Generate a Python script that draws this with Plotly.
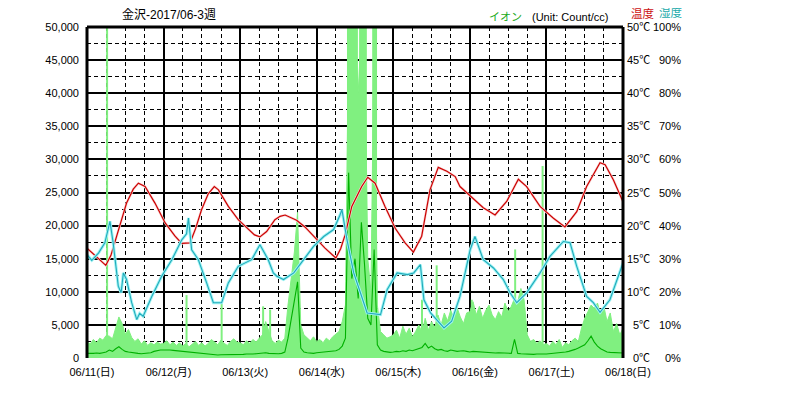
import plotly.graph_objects as go

# ---------------- data ----------------
day_hours = [0, 24, 48, 72, 96, 120, 144, 168]
day_labels = ["06/11(日)", "06/12(月)", "06/13(火)", "06/14(水)", "06/15(木)",
              "06/16(金)", "06/17(土)", "06/18(日)"]

ion_ticks = [0, 5000, 10000, 15000, 20000, 25000, 30000, 35000, 40000, 45000, 50000]
ion_tick_labels = ["0", "5,000", "10,000", "15,000", "20,000", "25,000", "30,000",
                   "35,000", "40,000", "45,000", "50,000"]
temp_ticks = [0, 5, 10, 15, 20, 25, 30, 35, 40, 45, 50]
temp_tick_labels = ["0℃", "5℃", "10℃", "15℃", "20℃", "25℃", "30℃", "35℃", "40℃", "45℃", "50℃"]
hum_ticks = [0, 10, 20, 30, 40, 50, 60, 70, 80, 90, 100]
hum_tick_labels = ["0%", "10%", "20%", "30%", "40%", "50%", "60%", "70%", "80%", "90%", "100%"]

# hourly ion readings (Count/cc), hour 0 .. 168
ion_hours = list(range(169))
ion_max = [
    2500, 2100, 2800, 2300, 3000, 2700, 3400, 3300, 2900, 4600, 6200, 5200,
    3600, 4300, 3100, 2500, 2900, 2100, 2600, 1900, 2300, 2000, 2400, 2100,
    2200, 2600, 2000, 2400, 1900, 2300, 1800, 2200, 1700, 2100, 2500, 1900,
    2300, 1800, 2200, 2800, 2400, 2000, 2700, 2200, 1900, 2500, 2900, 2400,
    2300, 2000, 2600, 2200, 2800, 2400, 3000, 3500, 5500, 4000, 2600, 2200,
    2700, 2400, 3000, 8000, 12000, 16000, 22000, 5000, 3500, 3000, 2600, 3200,
    2500, 2800, 2300, 3000, 2600, 3200, 3600, 4000, 5500, 8000, 50000, 50000,
    50000, 40000, 50000, 50000, 15000, 10000, 50000, 8000, 4000, 3500, 3000, 3200,
    3500, 4200, 3000, 4800, 3600, 4500, 3200, 4000, 5000, 3800, 6000, 4200,
    5500, 4600, 6500, 5000, 6800, 5600, 7200, 6000, 7600, 6200, 5200, 6800,
    7000, 8500, 6500, 7800, 6000, 7200, 8000, 6500, 5800, 7000, 6200, 8300,
    7000, 7800, 9000, 8500, 10500, 8800, 3500, 2500, 2800, 2200, 2600, 2000,
    2200, 1800, 2500, 2000, 2800, 1600, 2300, 2000, 2600, 3000, 2500, 4500,
    6000, 7000, 8000, 7500, 8300, 6500, 7800, 5500, 6800, 4000, 5200, 3500,
    4500,
]
ion_avg = [
    700, 650, 700, 750, 700, 800, 900, 1200, 1000, 1400, 1700, 1300,
    1000, 900, 800, 750, 700, 650, 700, 650, 800, 1000, 1150, 1200,
    1200, 1250, 1200, 1150, 1100, 1000, 950, 900, 850, 800, 750, 700,
    650, 600, 550, 500, 450, 450, 500, 500, 450, 500, 550, 500,
    500, 550, 600, 550, 600, 650, 700, 750, 800, 700, 650, 600,
    650, 700, 900, 3000, 6000, 9000, 11500, 1500, 900, 800, 750, 700,
    800, 850, 900, 850, 900, 1000, 1100, 1300, 1800, 3000, 28000, 12000,
    15000, 9000, 20500, 14000, 6000, 5000, 16400, 2000, 1200, 1000, 900, 850,
    900, 1000, 950, 1100, 1000, 1200, 1100, 1300, 1400, 1600, 2200, 1500,
    1800, 1400, 1200, 1300, 1100, 1000, 1200, 1100, 1000, 1050, 1100, 1000,
    900, 1000, 950, 900, 850, 900, 850, 800, 750, 800, 750, 700,
    650, 700, 2800, 700, 650, 600, 550, 600, 550, 600, 650, 600,
    600, 650, 700, 650, 700, 800, 900, 1000, 1100, 1300, 1500, 1700,
    2000, 2600, 3300, 2400, 1800, 1400, 1100, 900, 850, 800, 750, 800,
    750,
]

# short-lived ion peaks (hour, Count/cc)
peak_hours = [6.3, 31.2, 42.2, 55.2, 57.4, 105.0, 109.6, 120.6, 134.2, 142.8,
              81.8, 82.1, 82.4, 82.7, 83.0, 83.3, 84.0, 84.3, 84.6,
              85.6, 85.9, 86.2, 86.5, 86.8, 87.1, 87.4, 89.7, 90.0, 90.3, 90.6]
peak_values = [50000, 9500, 8300, 7800, 7300, 8800, 14000, 8800, 16400, 29000,
               50000, 50000, 50000, 50000, 50000, 50000, 50000, 50000, 50000,
               50000, 50000, 50000, 50000, 50000, 50000, 50000, 50000, 50000, 50000, 50000]

# temperature (°C)
temp_hours = [0, 3, 5.9, 7.5, 9.8, 12.4, 14.5, 16.1, 18.2, 21.3, 24.5, 27.6, 29.7, 32.3,
              34, 35.9, 38, 39.9, 41.2, 44.3, 47.4, 50.6, 52.5, 54.2, 56.3, 58.9, 60.5,
              62.1, 65.7, 68.3, 71.5, 74.6, 78.0, 79.5, 80.9, 83, 86.1, 88, 90.3, 93.4,
              96.6, 99.7, 102.3, 104.9, 107.5, 110.1, 112.8, 115.4, 116.9, 120.6, 124.2,
              127.9, 131.6, 135.2, 137.8, 142, 146.2, 149.8, 153.5, 156.6, 160.8, 162.4,
              165, 168]
temp_values = [16.6, 15.3, 14.0, 15.5, 19.4, 23.4, 25.5, 26.4, 25.9, 23.4, 20.4, 18.4, 17.3,
               17.4, 19.5, 22.4, 24.8, 25.9, 25.4, 22.9, 20.9, 19.4, 18.6, 18.3, 19.1, 20.9,
               21.4, 21.6, 20.8, 19.8, 18.1, 16.6, 15.1, 16.5, 18.6, 22.9, 25.9, 27.3, 26.4,
               22.9, 19.6, 17.4, 16.0, 18.4, 25.4, 28.8, 28.2, 27.4, 25.9, 24.2, 22.7, 21.6,
               23.7, 27.0, 25.9, 22.9, 21.1, 19.8, 22.1, 25.9, 29.5, 29.2, 26.9, 23.6]

# humidity (%)
hum_hours = [0, 1.5, 3.6, 5.6, 7.2, 8.2, 9.8, 10.7, 11.4, 12.4, 14.0, 15.6, 16.5, 17.6,
             20.3, 23.4, 26.6, 29.7, 31.2, 31.8, 32.8, 34.9, 37.5, 39.6, 42.2, 44.3, 47.4,
             51.6, 54.2, 56.8, 58.4, 59.5, 61.6, 64.8, 67.9, 71.0, 74.2, 77.3, 79.2, 79.9,
             81.5, 83.6, 85.7, 87.8, 92, 94.1, 97.2, 100.4, 102.4, 104.5, 105.6, 107.7,
             111.9, 114.3, 116.9, 118.5, 120.1, 121.6, 124.2, 127.4, 130.5, 132.6, 134.7,
             137.8, 142, 145.1, 149.3, 151.4, 153.5, 156.6, 158.7, 160.8, 163.9, 168]
hum_values = [31.2, 29.5, 31.7, 34.8, 41.3, 34.8, 21.7, 19.7, 25.7, 23.7, 16.7, 11.6, 13.5,
              12.6, 18.6, 24.7, 29.7, 35.7, 37.5, 42.3, 32.7, 29.7, 22.7, 16.7, 16.7, 22.7,
              27.7, 29.7, 34.2, 29.7, 25.7, 24.7, 23.7, 25.7, 29.7, 33.7, 36.7, 38.8, 43.0,
              44.8, 35.7, 25.7, 19.7, 13.6, 13.1, 20.7, 25.7, 25.2, 25.7, 28.2, 17.6, 13.6,
              9.1, 11.1, 18.6, 25.7, 32.7, 36.7, 29.7, 27.2, 23.7, 19.7, 16.7, 19.7, 25.7,
              30.7, 35.2, 34.8, 27.7, 18.6, 16.7, 13.8, 17.6, 28.7]

# ---------------- styles ----------------
FONT = "Liberation Sans, Arial, Noto Sans CJK JP, sans-serif"
FS = 11
LIGHT_GREEN = "#80f080"
DARK_GREEN = "#00b000"
RED = "#cc0000"
CYAN = "#22aabb"
LIGHT_CYAN = "#a0f4f4"

# page body has an 8px margin; plot area is placed at x 87..623, y 27..358 of the window
fig = go.Figure()

fig.add_trace(go.Scatter(x=ion_hours, y=ion_max, mode="lines", fill="tozeroy",
                         line=dict(color=LIGHT_GREEN, width=1), fillcolor=LIGHT_GREEN,
                         hoverinfo="skip", showlegend=False))

px_, py_ = [], []
for h, v in zip(peak_hours, peak_values):
    px_ += [h, h, None]
    py_ += [0, v, None]
fig.add_trace(go.Scatter(x=px_, y=py_, mode="lines",
                         line=dict(color=LIGHT_GREEN, width=2),
                         hoverinfo="skip", showlegend=False))

fig.add_trace(go.Scatter(x=ion_hours, y=ion_avg, mode="lines",
                         line=dict(color=DARK_GREEN, width=1.1),
                         hoverinfo="skip", showlegend=False))

fig.add_trace(go.Scatter(x=hum_hours, y=hum_values, mode="lines", yaxis="y3",
                         line=dict(color=LIGHT_CYAN, width=3),
                         hoverinfo="skip", showlegend=False))
fig.add_trace(go.Scatter(x=hum_hours, y=hum_values, mode="lines", yaxis="y3",
                         line=dict(color=CYAN, width=1.1),
                         hoverinfo="skip", showlegend=False))

fig.add_trace(go.Scatter(x=temp_hours, y=temp_values, mode="lines", yaxis="y2",
                         line=dict(color="#f8d4d4", width=2.5),
                         hoverinfo="skip", showlegend=False))
fig.add_trace(go.Scatter(x=temp_hours, y=temp_values, mode="lines", yaxis="y2",
                         line=dict(color=RED, width=1.2),
                         hoverinfo="skip", showlegend=False))

# axis frame (left, top, right)
for x0, y0, x1, y1 in [(0, 0, 0, 1), (0, 1, 1, 1), (1, 1, 1, 0)]:
    fig.add_shape(type="line", xref="paper", yref="paper", x0=x0, y0=y0, x1=x1, y1=y1,
                  line=dict(color="black", width=3), layer="above")

W_PLOT = 536.0
def px_to_paper(px):
    return (px - 87) / W_PLOT

def ypx(py):
    return (358.5 - py) / 331.5

annotations = []
for v, t in zip(temp_ticks, temp_tick_labels):
    annotations.append(dict(x=px_to_paper(652), xref="paper", y=v, yref="y2", text=t,
                            xanchor="right", yanchor="middle", showarrow=False,
                            font=dict(size=FS, color="black", family=FONT)))
for v, t in zip(hum_ticks, hum_tick_labels):
    annotations.append(dict(x=px_to_paper(683), xref="paper", y=v, yref="y3", text=t,
                            xanchor="right", yanchor="middle", showarrow=False,
                            font=dict(size=FS, color="black", family=FONT)))

annotations += [
    dict(x=px_to_paper(120), y=ypx(15), xref="paper", yref="paper", text="金沢-2017/06-3週",
         xanchor="left", yanchor="middle", showarrow=False,
         font=dict(size=12, color="black", family=FONT)),
    dict(x=px_to_paper(487), y=ypx(17), xref="paper", yref="paper", text="イオン",
         xanchor="left", yanchor="middle", showarrow=False,
         font=dict(size=FS, color="#22aa22", family=FONT)),
    dict(x=px_to_paper(530), y=ypx(17), xref="paper", yref="paper", text="(Unit: Count/cc)",
         xanchor="left", yanchor="middle", showarrow=False,
         font=dict(size=FS, color="black", family=FONT)),
    dict(x=px_to_paper(629), y=ypx(13), xref="paper", yref="paper", text="温度",
         xanchor="left", yanchor="middle", showarrow=False,
         font=dict(size=11.5, color="#cc1111", family=FONT)),
    dict(x=px_to_paper(657), y=ypx(13), xref="paper", yref="paper", text="湿度",
         xanchor="left", yanchor="middle", showarrow=False,
         font=dict(size=11.5, color="#22aaaa", family=FONT)),
]

fig.update_layout(
    width=778, height=391,
    margin=dict(l=79, r=163, t=19, b=41, autoexpand=False),
    paper_bgcolor="white", plot_bgcolor="white",
    font=dict(family=FONT, size=FS, color="black"),
    showlegend=False,
    xaxis=dict(range=[0, 168], tickmode="array", tickvals=day_hours, ticktext=day_labels,
               showgrid=True, gridcolor="black", gridwidth=2, zeroline=False,
               showline=False, ticks="", ticklabelstandoff=6, ticklabelshift=5,
               automargin=False,
               minor=dict(tickmode="linear", tick0=0, dtick=6, showgrid=True,
                          gridcolor="black", gridwidth=1, griddash="4px,3px")),
    yaxis=dict(range=[0, 50000], tickmode="array", tickvals=ion_ticks, ticktext=ion_tick_labels,
               showgrid=True, gridcolor="black", gridwidth=2, zeroline=False,
               showline=False, ticks="", ticklabelstandoff=7, automargin=False,
               minor=dict(tickmode="linear", tick0=0, dtick=2500, showgrid=True,
                          gridcolor="black", gridwidth=1, griddash="4px,3px")),
    yaxis2=dict(range=[0, 50], overlaying="y", side="right", visible=False, showgrid=False),
    yaxis3=dict(range=[0, 100], overlaying="y", side="right", visible=False, showgrid=False),
    annotations=annotations,
)

fig.write_html("out.html")
